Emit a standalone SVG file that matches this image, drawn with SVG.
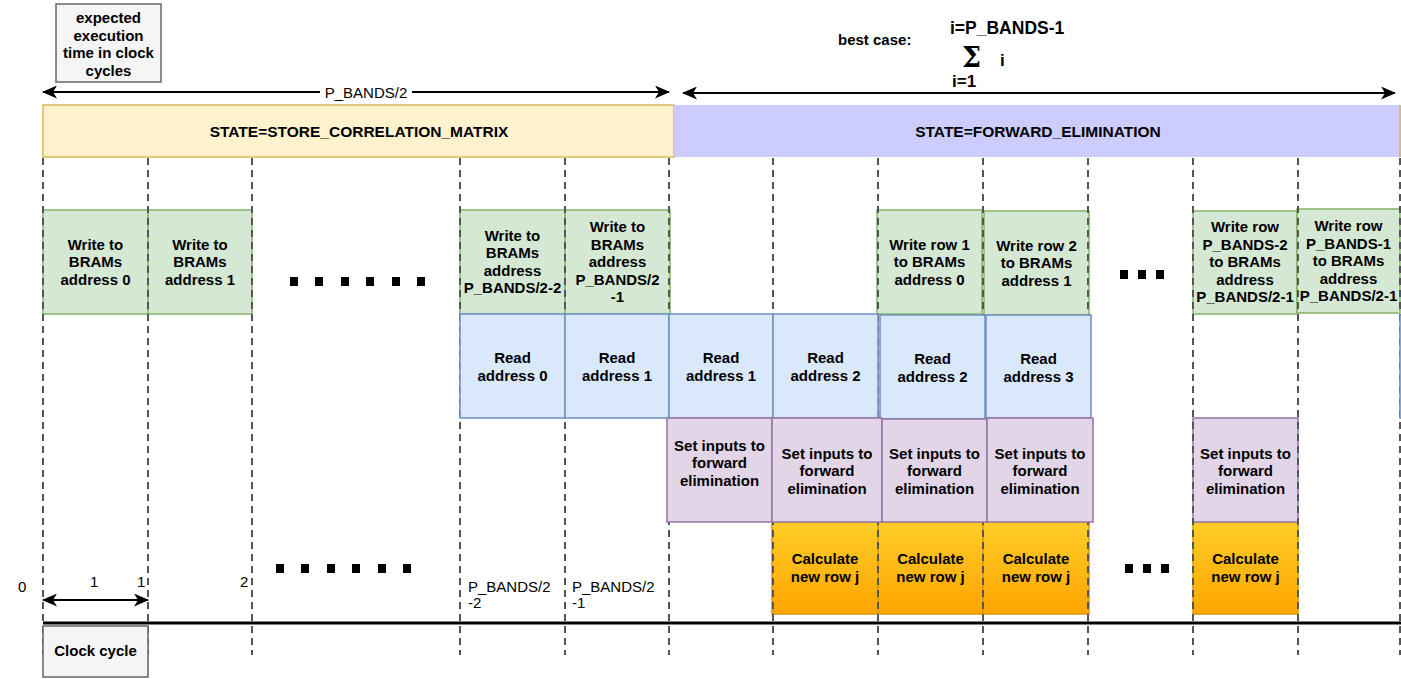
<svg xmlns="http://www.w3.org/2000/svg" width="1401" height="679" viewBox="0 0 1401 679">
<style>
text{font-family:"Liberation Sans",Arial,sans-serif;font-size:15px;fill:#000}
.b{font-weight:bold}
.c{text-anchor:middle}
.gr{fill:#d5e8d4;stroke:#82b366;stroke-width:1.5}
.bl{fill:#dae8fc;stroke:#6c8ebf;stroke-width:1.5}
.pu{fill:#e1d5e7;stroke:#9673a6;stroke-width:1.5}
.or{fill:url(#og);stroke:#d79b00;stroke-width:1.5}
.gy{fill:#f5f5f5;stroke:#666666;stroke-width:1.5}
.dash{stroke:#555;stroke-width:2;stroke-dasharray:7 5;fill:none}
.arr{stroke:#000;stroke-width:2;fill:none;marker-start:url(#ah);marker-end:url(#ah)}
.dot{fill:#000}
</style>
<defs>
<linearGradient id="og" x1="0" y1="0" x2="0" y2="1">
<stop offset="0" stop-color="#ffcd28"/>
<stop offset="1" stop-color="#ffa500"/>
</linearGradient>
<marker id="ah" markerUnits="userSpaceOnUse" markerWidth="15" markerHeight="13" refX="14" refY="6.5" orient="auto-start-reverse">
<path d="M0,0 L15,6.5 L0,13 L4,6.5 z" fill="#000"/>
</marker>
</defs>

<g id="state-store">
<rect x="43" y="105" width="631" height="52" fill="#fff2cc" stroke="#d6b656" stroke-width="1.5"/>
<text class="b c" x="359" y="137" style="font-size:15.5px">STATE=STORE_CORRELATION_MATRIX</text>
</g>
<g id="state-forward">
<rect x="674" y="105" width="727" height="52" fill="#ccccff"/>
<line x1="1400" y1="105" x2="1400" y2="157" stroke="#d6b656" stroke-width="1.5"/>
<text class="b c" x="1038" y="137" style="font-size:15.5px">STATE=FORWARD_ELIMINATION</text>
</g>

<g id="green-boxes">
<g id="w0"><rect class="gr" x="43" y="210" width="105" height="104"/><text class="b c" x="95.5" y="249.5">Write to<tspan x="95.5" dy="17.5">BRAMs</tspan><tspan x="95.5" dy="17.5">address 0</tspan></text></g>
<g id="w1"><rect class="gr" x="148" y="210" width="104" height="104"/><text class="b c" x="200" y="249.5">Write to<tspan x="200" dy="17.5">BRAMs</tspan><tspan x="200" dy="17.5">address 1</tspan></text></g>
<g id="w2"><rect class="gr" x="460" y="210" width="105" height="104"/><text class="b c" x="512.5" y="240.75">Write to<tspan x="512.5" dy="17.5">BRAMs</tspan><tspan x="512.5" dy="17.5">address</tspan><tspan x="512.5" dy="17.5">P_BANDS/2-2</tspan></text></g>
<g id="w3"><rect class="gr" x="565" y="210" width="105" height="104"/><text class="b c" x="617.5" y="232">Write to<tspan x="617.5" dy="17.5">BRAMs</tspan><tspan x="617.5" dy="17.5">address</tspan><tspan x="617.5" dy="17.5">P_BANDS/2</tspan><tspan x="617.5" dy="17.5">-1</tspan></text></g>
<g id="wr1"><rect class="gr" x="877" y="210" width="105" height="104"/><text class="b c" x="929.5" y="249.5">Write row 1<tspan x="929.5" dy="17.5">to BRAMs</tspan><tspan x="929.5" dy="17.5">address 0</tspan></text></g>
<g id="wr2"><rect class="gr" x="984" y="211" width="105" height="104"/><text class="b c" x="1036.5" y="250.5">Write row 2<tspan x="1036.5" dy="17.5">to BRAMs</tspan><tspan x="1036.5" dy="17.5">address 1</tspan></text></g>
<g id="wrn2"><rect class="gr" x="1193" y="211" width="104" height="103"/><text class="b c" x="1245" y="232">Write row<tspan x="1245" dy="17.5">P_BANDS-2</tspan><tspan x="1245" dy="17.5">to BRAMs</tspan><tspan x="1245" dy="17.5">address</tspan><tspan x="1245" dy="17.5">P_BANDS/2-1</tspan></text></g>
<g id="wrn1"><rect class="gr" x="1297" y="209" width="103" height="104"/><text class="b c" x="1348.5" y="231">Write row<tspan x="1348.5" dy="17.5">P_BANDS-1</tspan><tspan x="1348.5" dy="17.5">to BRAMs</tspan><tspan x="1348.5" dy="17.5">address</tspan><tspan x="1348.5" dy="17.5">P_BANDS/2-1</tspan></text></g>
</g>

<g id="orange-boxes">
<g id="c1"><rect class="or" x="772" y="522" width="106" height="92"/><text class="b c" x="825" y="564">Calculate<tspan x="825" dy="17.5">new row j</tspan></text></g>
<g id="c2"><rect class="or" x="878" y="522" width="105" height="92"/><text class="b c" x="930.5" y="564">Calculate<tspan x="930.5" dy="17.5">new row j</tspan></text></g>
<g id="c3"><rect class="or" x="983" y="522" width="106" height="92"/><text class="b c" x="1036" y="564">Calculate<tspan x="1036" dy="17.5">new row j</tspan></text></g>
<g id="c4"><rect class="or" x="1193" y="522" width="105" height="92"/><text class="b c" x="1245.5" y="564">Calculate<tspan x="1245.5" dy="17.5">new row j</tspan></text></g>
</g>
<g id="s5"><rect class="pu" x="1193" y="418" width="105" height="104"/><text class="b c" x="1245.5" y="458.5">Set inputs to<tspan x="1245.5" dy="17.5">forward</tspan><tspan x="1245.5" dy="17.5">elimination</tspan></text></g>

<g id="connectors">
<g id="grid">
<line class="dash" x1="43" y1="158" x2="43" y2="655"/>
<line class="dash" x1="148" y1="158" x2="148" y2="655"/>
<line class="dash" x1="252" y1="158" x2="252" y2="655"/>
<line class="dash" x1="460" y1="158" x2="460" y2="655"/>
<line class="dash" x1="565" y1="158" x2="565" y2="655"/>
<line class="dash" x1="669" y1="158" x2="669" y2="655"/>
<line class="dash" x1="773" y1="158" x2="773" y2="655"/>
<line class="dash" x1="878" y1="158" x2="878" y2="655"/>
<line class="dash" x1="983" y1="158" x2="983" y2="655"/>
<line class="dash" x1="1088" y1="158" x2="1088" y2="655"/>
<line class="dash" x1="1193" y1="158" x2="1193" y2="655"/>
<line class="dash" x1="1298" y1="158" x2="1298" y2="655"/>
<line class="dash" x1="1400" y1="158" x2="1400" y2="655"/>
</g>
<line x1="43" y1="623" x2="1401" y2="623" stroke="#000" stroke-width="3"/>
<line class="arr" x1="43" y1="92" x2="669" y2="92"/>
<rect x="320" y="83" width="92" height="18" fill="#fff"/>
<text class="c" x="366" y="97.5">P_BANDS/2</text>
<line class="arr" x1="683" y1="93" x2="1395" y2="93"/>
<line class="arr" x1="43" y1="600" x2="148" y2="600"/>
</g>

<g id="blue-boxes">
<g id="r1"><rect class="bl" x="460" y="314" width="105" height="104"/><text class="b c" x="512.5" y="363">Read<tspan x="512.5" dy="17.5">address 0</tspan></text></g>
<g id="r2"><rect class="bl" x="565" y="314" width="104" height="104"/><text class="b c" x="617" y="363">Read<tspan x="617" dy="17.5">address 1</tspan></text></g>
<g id="r3"><rect class="bl" x="669" y="314" width="104" height="104"/><text class="b c" x="721" y="363">Read<tspan x="721" dy="17.5">address 1</tspan></text></g>
<g id="r4"><rect class="bl" x="773" y="314" width="105" height="104"/><text class="b c" x="825.5" y="363">Read<tspan x="825.5" dy="17.5">address 2</tspan></text></g>
<g id="r5"><rect class="bl" x="880" y="315" width="105" height="104"/><text class="b c" x="932.5" y="364">Read<tspan x="932.5" dy="17.5">address 2</tspan></text></g>
<g id="r6"><rect class="bl" x="986" y="315" width="105" height="103"/><text class="b c" x="1038.5" y="364">Read<tspan x="1038.5" dy="17.5">address 3</tspan></text></g>
<g id="r7"><rect class="bl" x="1400" y="315" width="100" height="103"/></g>
</g>

<g id="purple-boxes">
<g id="s1"><rect class="pu" x="667" y="418" width="105" height="104"/><text class="b c" x="719.5" y="450.5">Set inputs to<tspan x="719.5" dy="17.5">forward</tspan><tspan x="719.5" dy="17.5">elimination</tspan></text></g>
<g id="s2"><rect class="pu" x="772" y="418" width="110" height="104"/><text class="b c" x="827" y="458.5">Set inputs to<tspan x="827" dy="17.5">forward</tspan><tspan x="827" dy="17.5">elimination</tspan></text></g>
<g id="s3"><rect class="pu" x="882" y="419" width="105" height="103"/><text class="b c" x="934.5" y="458.5">Set inputs to<tspan x="934.5" dy="17.5">forward</tspan><tspan x="934.5" dy="17.5">elimination</tspan></text></g>
<g id="s4"><rect class="pu" x="987" y="418" width="106" height="104"/><text class="b c" x="1040" y="458.5">Set inputs to<tspan x="1040" dy="17.5">forward</tspan><tspan x="1040" dy="17.5">elimination</tspan></text></g>
</g>

<g id="exec-box"><rect class="gy" x="56" y="4" width="105" height="78"/><text class="b c" x="108.5" y="23">expected<tspan x="108.5" dy="17.5">execution</tspan><tspan x="108.5" dy="17.5">time in clock</tspan><tspan x="108.5" dy="17.5">cycles</tspan></text></g>
<g id="clock-box"><rect class="gy" x="43" y="626" width="105" height="51"/><text class="b c" x="95.5" y="656">Clock cycle</text></g>

<g id="best-case">
<text class="b" x="838" y="45">best case:</text>
<text class="b" x="950" y="34" style="font-size:17.5px">i=P_BANDS-1</text>
<text x="962" y="67" style="font-family:'DejaVu Serif',serif;font-size:27px;font-weight:bold">Σ</text>
<text class="b" x="1000" y="66" style="font-size:17px">i</text>
<text class="b" x="952" y="87" style="font-size:17px">i=1</text>
</g>

<g id="axis-labels">
<text x="18" y="592">0</text>
<text x="90" y="587">1</text>
<text x="137" y="587">1</text>
<text x="240" y="587">2</text>
<text x="468" y="592">P_BANDS/2<tspan x="468" dy="16">-2</tspan></text>
<text x="572" y="592">P_BANDS/2<tspan x="572" dy="16">-1</tspan></text>
</g>

<g id="ellipses">
<rect class="dot" x="290" y="277" width="8" height="9"/><rect class="dot" x="315" y="277" width="8" height="9"/><rect class="dot" x="341" y="277" width="8" height="9"/><rect class="dot" x="366" y="277" width="8" height="9"/><rect class="dot" x="392" y="277" width="8" height="9"/><rect class="dot" x="417" y="277" width="8" height="9"/>
<rect class="dot" x="276" y="564" width="8" height="9"/><rect class="dot" x="301" y="564" width="8" height="9"/><rect class="dot" x="327" y="564" width="8" height="9"/><rect class="dot" x="352" y="564" width="8" height="9"/><rect class="dot" x="378" y="564" width="8" height="9"/><rect class="dot" x="403" y="564" width="8" height="9"/>
<rect class="dot" x="1120" y="270" width="8" height="9"/><rect class="dot" x="1138" y="270" width="8" height="9"/><rect class="dot" x="1156" y="270" width="8" height="9"/>
<rect class="dot" x="1125" y="564" width="8" height="9"/><rect class="dot" x="1143" y="564" width="8" height="9"/><rect class="dot" x="1161" y="564" width="8" height="9"/>
</g>
</svg>
